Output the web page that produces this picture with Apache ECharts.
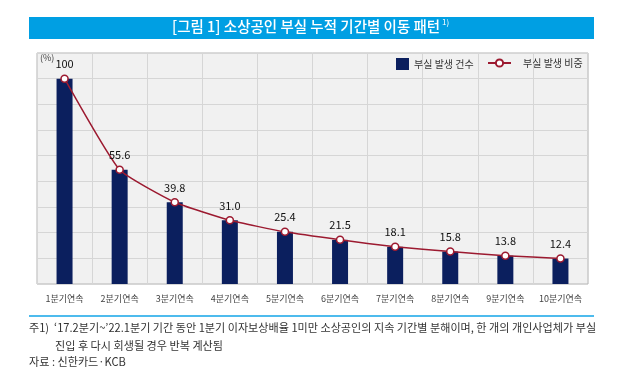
<!DOCTYPE html>
<html><head><meta charset="utf-8">
<script src="https://cdn.jsdelivr.net/npm/echarts@6/dist/echarts.min.js"></script>
<style>html,body{margin:0;padding:0;background:#fff}#c{width:640px;height:385px}</style>
</head><body><div id="c"></div>
<script>
const categories = ['1분기연속','2분기연속','3분기연속','4분기연속','5분기연속','6분기연속','7분기연속','8분기연속','9분기연속','10분기연속'];
const countValues = [100, 55.6, 39.8, 31.0, 25.4, 21.5, 18.1, 15.8, 13.8, 12.4];
const shareValues = [100, 55.6, 39.8, 31.0, 25.4, 21.5, 18.1, 15.8, 13.8, 12.4];
const shareLabels = ['100','55.6','39.8','31.0','25.4','21.5','18.1','15.8','13.8','12.4'];
const F = '"Noto Sans CJK KR", "Noto Sans", sans-serif';
const chart = echarts.init(document.getElementById('c'));
chart.setOption({
  animation: false,
  textStyle: {fontFamily: F},
  grid: {left: 37, right: 52, top: 53, bottom: 101, show: true, backgroundColor: '#f1f1f1', borderColor: '#b5b5b5', borderWidth: 1},
  legend: [
    {
      left: 391, top: 53, itemGap: 0, textStyle: {fontSize: 10, color: '#333', fontFamily: F},
      data: [{name: '부실 발생 건수', icon: 'rect', itemStyle: {color: '#0b1f5e'}}],
      itemWidth: 13, itemHeight: 12
    },
    {
      left: 482, top: 53, itemGap: 0, textStyle: {fontSize: 10, color: '#333', fontFamily: F, padding: [0, 0, 0, 7]},
      data: [{name: '부실 발생 비중'}],
      itemWidth: 23, itemHeight: 9
    }
  ],
  xAxis: {
    type: 'category', data: categories, boundaryGap: true,
    axisLine: {show: false}, axisTick: {show: false},
    splitLine: {show: true, lineStyle: {color: '#d6d6d6'}},
    axisLabel: {fontSize: 9, color: '#444', margin: 10, fontFamily: F, interval: 0}
  },
  yAxis: {
    type: 'value', min: 0, max: 112.5, interval: 12.5,
    axisLabel: {show: false}, axisLine: {show: false}, axisTick: {show: false},
    splitLine: {lineStyle: {color: '#d6d6d6'}}
  },
  graphic: [
    {type: 'rect', shape: {x: 29, y: 17, width: 565, height: 22}, style: {fill: '#009fe3'}},
    {type: 'text', left: 172, top: 19, style: {text: '[그림 1] 소상공인 부실 누적 기간별 이동 패턴', fill: '#fff', font: '500 14.5px ' + F}},
    {type: 'text', left: 442, top: 18, style: {text: '1)', fill: '#fff', font: '8px ' + F}},
    {type: 'text', left: 40, top: 53, style: {text: '(%)', fill: '#444', font: '9px ' + F}},
    {type: 'rect', shape: {x: 29, y: 315, width: 565, height: 2}, style: {fill: '#4dbbed'}},
    {type: 'text', left: 29, top: 322, style: {text: '주1)  ‘17.2분기~’22.1분기 기간 동안 1분기 이자보상배율 1미만 소상공인의 지속 기간별 분해이며, 한 개의 개인사업체가 부실', fill: '#333', font: '11.1px ' + F}},
    {type: 'text', left: 55, top: 340, style: {text: '진입 후 다시 회생될 경우 반복 계산됨', fill: '#333', font: '11.1px ' + F}},
    {type: 'text', left: 29, top: 356, style: {text: '자료 : 신한카드·KCB', fill: '#333', font: '11.1px ' + F}}
  ],
  series: [
    {
      name: '부실 발생 건수', type: 'bar', data: countValues, barWidth: 16,
      itemStyle: {color: '#0b1f5e'}
    },
    {
      name: '부실 발생 비중', type: 'line', data: shareValues, smooth: 0.15,
      symbol: 'circle', symbolSize: 7,
      lineStyle: {color: '#9c1a30', width: 1.5},
      itemStyle: {color: '#fff', borderColor: '#9c1a30', borderWidth: 1.5},
      label: {show: true, position: 'top', distance: 5, fontSize: 11, color: '#111', fontFamily: F,
        formatter: p => shareLabels[p.dataIndex]}
    }
  ]
});
</script></body></html>
